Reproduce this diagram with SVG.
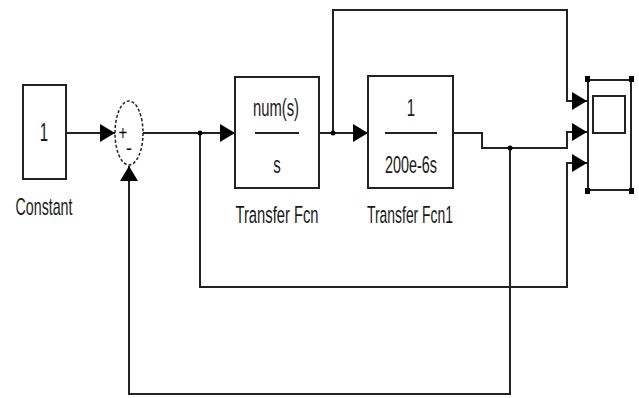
<svg xmlns="http://www.w3.org/2000/svg" width="639" height="398" viewBox="0 0 639 398">
<style>
.blk{fill:#fff;stroke:#222;stroke-width:2}
.ln{fill:none;stroke:#222;stroke-width:2}
.t{font-family:"Liberation Sans",Arial,sans-serif;font-size:15px;fill:#1a1a1a;text-anchor:middle}
.ah{fill:#000}
.hd{fill:#000}
</style>
<defs>
<marker id="arr" markerWidth="15" markerHeight="18" refX="15" refY="9" orient="auto" markerUnits="userSpaceOnUse">
<path d="M0,0 L15,9 L0,18 Z" class="ah"/>
</marker>
</defs>
<rect width="639" height="398" fill="#fff"/>
<g id="connectors">
<path class="ln" d="M66,133 L115,133" marker-end="url(#arr)"/>
<path class="ln" d="M143,133 L235,133" marker-end="url(#arr)"/>
<path class="ln" d="M319,133 L368,133" marker-end="url(#arr)"/>
<path class="ln" d="M333,133 L333,10 L567,10 L567,101 L587,101" marker-end="url(#arr)"/>
<path class="ln" d="M453,133 L482,133 L482,148 L567,148 L567,132 L587,132" marker-end="url(#arr)"/>
<path class="ln" d="M200,133 L200,287 L567,287 L567,163 L587,163" marker-end="url(#arr)"/>
<path class="ln" d="M510,148 L510,394 L129,394 L129,166" marker-end="url(#arr)"/>
<circle cx="200" cy="133" r="2.5" fill="#000"/>
<circle cx="333" cy="133" r="2.5" fill="#000"/>
<circle cx="510" cy="148" r="2.5" fill="#000"/>
</g>
<g id="constant">
<rect class="blk" x="23" y="85" width="43" height="94"/>
<text class="t" transform="translate(44,141) scale(1,1.7)">1</text>
<text class="t" transform="translate(44,215) scale(1,1.65)" textLength="57" lengthAdjust="spacingAndGlyphs">Constant</text>
</g>
<g id="sum">
<ellipse cx="129" cy="133" rx="14" ry="32" fill="#fff" stroke="#222" stroke-width="1.5" stroke-dasharray="3,2"/>
<text transform="translate(123,140) scale(1,1.4)" font-family="Liberation Sans,Arial,sans-serif" font-size="15" text-anchor="middle" fill="#111">+</text>
<text transform="translate(129,155) scale(1.2,1.4)" font-family="Liberation Sans,Arial,sans-serif" font-size="15" text-anchor="middle" fill="#111">-</text>
</g>
<g id="transfer_fcn">
<rect class="blk" x="235" y="77" width="84" height="111"/>
<text class="t" transform="translate(276,116) scale(1,1.6)" textLength="46" lengthAdjust="spacingAndGlyphs">num(s)</text>
<line x1="255" y1="133" x2="299" y2="133" stroke="#222" stroke-width="2"/>
<text class="t" transform="translate(277,173) scale(1,1.65)">s</text>
<text class="t" transform="translate(277,223) scale(1,1.65)" textLength="83" lengthAdjust="spacingAndGlyphs">Transfer Fcn</text>
</g>
<g id="transfer_fcn1">
<rect class="blk" x="368" y="76" width="85" height="112"/>
<text class="t" transform="translate(411,116) scale(1,1.6)">1</text>
<line x1="385" y1="133" x2="437" y2="133" stroke="#222" stroke-width="2"/>
<text class="t" transform="translate(411,173) scale(1,1.6)" textLength="52" lengthAdjust="spacingAndGlyphs">200e-6s</text>
<text class="t" transform="translate(410,223) scale(1,1.65)" textLength="86" lengthAdjust="spacingAndGlyphs">Transfer Fcn1</text>
</g>
<g id="scope">
<rect class="blk" x="588" y="80" width="43" height="110"/>
<rect x="593" y="96" width="32" height="37" fill="#fff" stroke="#222" stroke-width="2"/>
<rect class="hd" x="585" y="76" width="5" height="6"/>
<rect class="hd" x="629" y="76" width="5" height="6"/>
<rect class="hd" x="585" y="188" width="5" height="6"/>
<rect class="hd" x="629" y="188" width="5" height="6"/>
</g>
</svg>
